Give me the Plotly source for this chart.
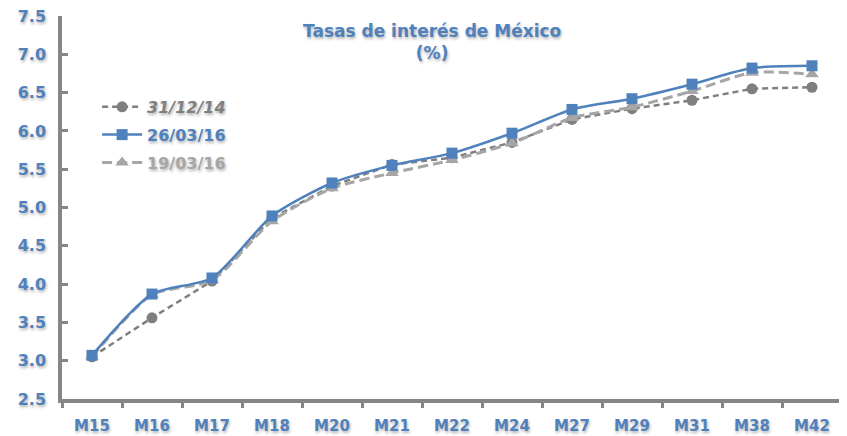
import plotly.graph_objects as go

categories = ["M15", "M16", "M17", "M18", "M20", "M21", "M22", "M24", "M27", "M29", "M31", "M38", "M42"]
s_311214 = [3.05, 3.56, 4.04, 4.86, 5.28, 5.56, 5.65, 5.85, 6.15, 6.29, 6.40, 6.55, 6.57]
s_260316 = [3.07, 3.87, 4.08, 4.89, 5.32, 5.55, 5.71, 5.97, 6.28, 6.42, 6.61, 6.82, 6.85]
s_190316 = [3.05, 3.86, 4.05, 4.82, 5.25, 5.45, 5.62, 5.84, 6.17, 6.31, 6.52, 6.76, 6.74]
y_ticks = [2.5, 3.0, 3.5, 4.0, 4.5, 5.0, 5.5, 6.0, 6.5, 7.0, 7.5]

BLUE = "#4F81BD"
DGRAY = "#7F7F7F"
LGRAY = "#A6A6A6"
AXIS = "#868686"
FONT = "DejaVu Sans"
SHADOW = "1px 2px 3px rgba(0,0,0,0.3)"

fig = go.Figure()

fig.add_trace(go.Scatter(
    x=categories, y=s_311214, mode="lines+markers",
    name="<b><i><span style='color:%s'>31/12/14</span></i></b>" % DGRAY,
    line=dict(color=DGRAY, width=2.5, dash="6px,4px"),
    marker=dict(symbol="circle", size=11, color=DGRAY),
    legendrank=1, legendgroup="a",
))
fig.add_trace(go.Scatter(
    x=categories, y=s_190316, mode="lines+markers",
    name="<b><span style='color:%s'>19/03/16</span></b>" % LGRAY,
    line=dict(color=LGRAY, width=3, dash="10px,5px", shape="spline", smoothing=0.7),
    marker=dict(symbol="triangle-up", size=12, color=LGRAY),
    legendrank=3, legendgroup="c",
))
fig.add_trace(go.Scatter(
    x=categories, y=s_260316, mode="lines+markers",
    name="<b><span style='color:%s'>26/03/16</span></b>" % BLUE,
    line=dict(color=BLUE, width=2.5, shape="spline", smoothing=0.7),
    marker=dict(symbol="square", size=11, color=BLUE),
    legendrank=2, legendgroup="b",
))

fig.add_annotation(
    x=0.5, y=1.0, xref="paper", yref="paper", xanchor="center", yanchor="top",
    xshift=-20, yshift=-3,
    text="<b>Tasas de interés de México</b><br><b>(%)</b>",
    showarrow=False, align="center",
    font=dict(family=FONT, size=17, color=BLUE, shadow=SHADOW),
)

# The page body adds an 8px offset; the figure size and margins compensate for it.
fig.update_layout(
    width=839, height=428,
    margin=dict(l=54, r=5, t=8, b=37, autoexpand=False),
    paper_bgcolor="white", plot_bgcolor="white",
    showlegend=True,
    legend=dict(
        x=0.045, y=0.807, xanchor="left", yanchor="top",
        bgcolor="rgba(0,0,0,0)", traceorder="grouped",
        font=dict(family=FONT, size=16, shadow=SHADOW),
        itemwidth=40, tracegroupgap=4,
    ),
    font=dict(family=FONT),
)

fig.update_xaxes(
    type="category", categoryorder="array", categoryarray=categories,
    range=[-0.5, len(categories) - 0.5],
    showline=True, linecolor=AXIS, linewidth=3.5,
    ticks="outside", tickson="boundaries", ticklen=5, tickwidth=3, tickcolor=AXIS,
    showgrid=False, zeroline=False, automargin=False,
    tickfont=dict(family=FONT, size=15, color=BLUE, weight="bold", shadow=SHADOW),
    ticklabelstandoff=10, ticklabeloverflow="allow",
)
fig.update_yaxes(
    range=[2.5, 7.5], tickvals=y_ticks, ticktext=["%.1f" % v for v in y_ticks],
    showline=True, linecolor=AXIS, linewidth=3.5,
    ticks="inside", ticklen=6, tickwidth=3, tickcolor=AXIS,
    showgrid=False, zeroline=False, automargin=False,
    tickfont=dict(family=FONT, size=16, color=BLUE, weight="bold", shadow=SHADOW),
    ticklabelstandoff=9, ticklabeloverflow="allow",
)

fig.write_html("out.html")
